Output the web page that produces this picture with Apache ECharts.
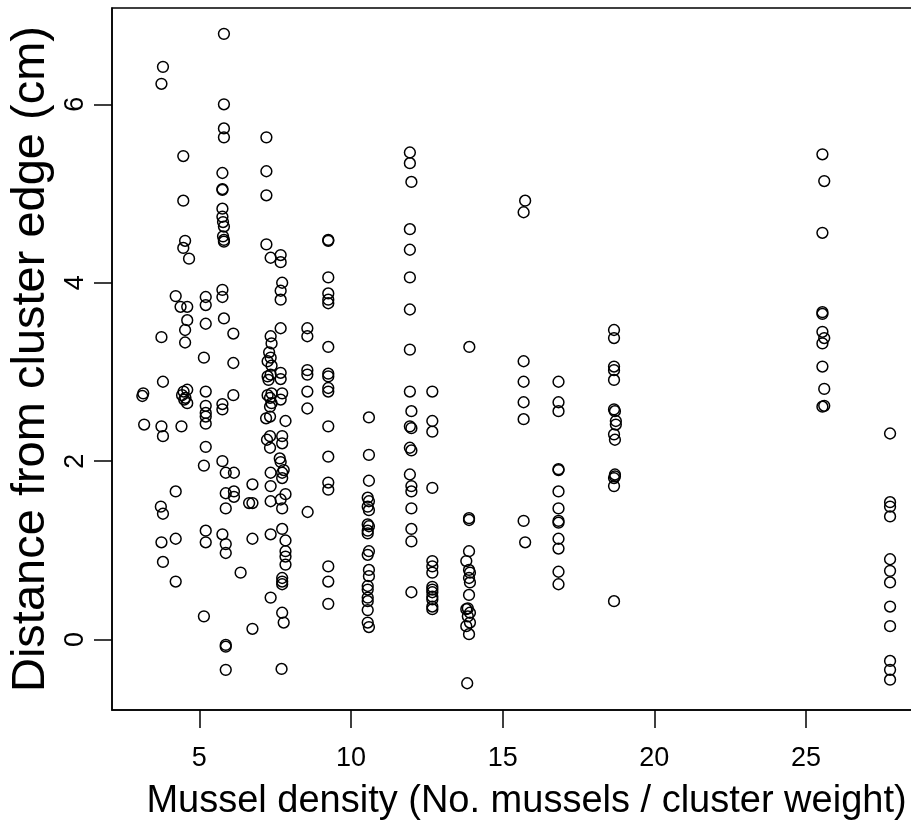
<!DOCTYPE html>
<html>
<head>
<meta charset="utf-8">
<script src="https://cdn.jsdelivr.net/npm/echarts@6/dist/echarts.min.js"></script>
<style>
html,body{margin:0;padding:0;background:#fff;overflow:hidden;width:911px;height:826px;}
#chart{width:925px;height:826px;}
</style>
</head>
<body>
<div id="chart"></div>
<script>
// Observed points: [mussel density, distance from cluster edge (cm)], grouped by density column
const colA = [[3.15,2.76],[3.12,2.73],[3.18,2.41]];
const colB = [[3.80,6.42],[3.75,6.23],[3.75,3.39],[3.80,2.89],[3.75,2.39],[3.80,2.28],[3.73,1.49],[3.80,1.41],[3.75,1.09],[3.80,0.87]];
const colC = [[4.22,3.85],[4.22,1.66],[4.22,1.13],[4.22,0.65]];
const colD = [[4.47,5.42],[4.47,4.92],[4.53,4.47],[4.47,4.39],[4.66,4.27],[4.38,3.73],[4.60,3.73],[4.60,3.58],[4.53,3.47],[4.53,3.33],[4.41,2.39],
  [4.48,2.78],[4.60,2.80],[4.43,2.74],[4.54,2.71],[4.60,2.65],[4.50,2.69]];
const colE = [[5.21,3.84],[5.21,3.75],[5.21,3.54],[5.15,3.16],[5.21,2.78],[5.21,2.62],[5.21,2.54],[5.21,2.50],[5.21,2.42],[5.21,2.16],[5.15,1.95],[5.21,1.22],[5.21,1.09],[5.15,0.26]];
const colF = [[5.81,6.79],[5.81,6.00],[5.81,5.73],[5.81,5.63],[5.76,5.23],[5.76,5.05],[5.76,5.04],[5.76,4.83],[5.76,4.74],[5.78,4.68],[5.81,4.63],[5.78,4.52],[5.81,4.48],[5.81,4.46],
  [5.76,3.92],[5.76,3.84],[5.81,3.60],[5.76,2.64],[5.76,2.58],[5.76,2.00],[5.87,1.87],[5.87,1.64],[5.87,1.47],[5.76,1.18],[5.87,1.07],[5.87,0.97],[5.87,-0.06],[5.87,-0.08],[5.87,-0.34]];
const colG = [[6.12,3.43],[6.12,3.10],[6.12,2.74],[6.14,1.87],[6.14,1.66],[6.14,1.60],[6.36,0.75]];
const colH = [[6.75,1.74],[6.64,1.53],[6.75,1.53],[6.75,1.13],[6.75,0.12]];
const colI = [[7.21,5.63],[7.21,5.25],[7.21,4.98],[7.21,4.43],[7.35,4.28],[7.35,3.40],[7.38,3.32],[7.30,3.22],[7.35,3.16],[7.25,3.12],[7.38,3.07],[7.25,2.95],[7.35,2.97],[7.28,2.91],
  [7.25,2.74],[7.38,2.76],[7.33,2.71],[7.38,2.65],[7.33,2.61],[7.20,2.48],[7.33,2.50],[7.23,2.24],[7.33,2.28],[7.33,2.15],[7.35,1.87],[7.35,1.72],[7.35,1.55],[7.35,1.18],[7.35,0.47]];
const colJ = [[7.68,4.31],[7.68,4.23],[7.73,4.00],[7.68,3.91],[7.68,3.81],[7.68,3.49],[7.68,2.99],[7.68,2.92],[7.73,2.76],[7.68,2.69],[7.84,2.45],[7.73,2.28],[7.73,2.20],[7.65,2.03],[7.68,1.99],
  [7.78,1.90],[7.73,1.87],[7.73,1.81],[7.84,1.63],[7.68,1.57],[7.73,1.47],[7.73,1.24],[7.84,1.11],[7.84,0.99],[7.84,0.93],[7.84,0.84],[7.73,0.69],[7.73,0.65],[7.73,0.62],[7.73,0.30],[7.78,0.19],[7.71,-0.33]];
const colK = [[8.56,3.49],[8.56,3.40],[8.56,3.02],[8.56,2.97],[8.56,2.78],[8.56,2.59],[8.57,1.43]];
const colL = [[9.25,4.48],[9.25,4.47],[9.25,4.06],[9.25,3.88],[9.25,3.81],[9.25,3.77],[9.25,3.28],[9.25,2.98],[9.25,2.95],[9.25,2.82],[9.25,2.78],[9.25,2.39],[9.25,2.05],[9.25,1.76],[9.25,1.68],[9.25,0.82],[9.25,0.65],[9.25,0.40]];
const colM = [[10.59,2.49],[10.59,2.07],[10.59,1.78],[10.55,1.59],[10.59,1.55],[10.55,1.49],[10.59,1.45],[10.55,1.29],[10.59,1.27],[10.55,1.22],[10.55,1.19],[10.59,0.99],[10.55,0.95],
  [10.59,0.78],[10.59,0.71],[10.55,0.60],[10.55,0.56],[10.55,0.47],[10.55,0.43],[10.55,0.33],[10.55,0.19],[10.59,0.14]];
const colN = [[11.94,5.46],[11.94,5.34],[11.99,5.13],[11.94,4.60],[11.94,4.37],[11.94,4.06],[11.94,3.70],[11.94,3.25],[11.94,2.78],[11.99,2.56],[11.94,2.39],[11.99,2.37],[11.94,2.15],[11.99,2.12],
  [11.94,1.85],[11.99,1.72],[11.99,1.66],[11.99,1.47],[11.99,1.24],[11.99,1.10],[11.99,0.53]];
const colO = [[12.68,2.78],[12.68,2.45],[12.68,2.33],[12.68,1.70],[12.68,0.88],[12.68,0.82],[12.68,0.75],[12.68,0.59],[12.68,0.56],[12.68,0.53],[12.68,0.48],[12.68,0.45],[12.68,0.37],[12.68,0.34]];
const colP = [[13.90,3.28],[13.89,1.36],[13.89,1.34],[13.89,0.99],[13.80,0.88],[13.89,0.78],[13.92,0.75],[13.89,0.69],[13.92,0.64],[13.89,0.50],[13.85,0.35],[13.80,0.34],[13.92,0.30],[13.85,0.26],
  [13.92,0.19],[13.80,0.15],[13.89,0.06],[13.83,-0.49]];
const colQ = [[15.74,4.92],[15.69,4.79],[15.69,3.12],[15.69,2.89],[15.69,2.66],[15.69,2.47],[15.69,1.33],[15.74,1.09]];
const colR = [[16.84,2.89],[16.84,2.66],[16.84,2.56],[16.84,1.91],[16.84,1.90],[16.84,1.66],[16.84,1.47],[16.84,1.33],[16.84,1.31],[16.84,1.13],[16.84,1.02],[16.84,0.76],[16.84,0.62]];
const colS = [[18.67,3.47],[18.67,3.38],[18.67,3.06],[18.67,3.02],[18.67,2.91],[18.67,2.58],[18.70,2.56],[18.73,2.45],[18.73,2.41],[18.67,2.30],[18.70,2.24],[18.70,1.85],[18.70,1.83],[18.67,1.81],[18.67,1.72],[18.67,0.43]];
const colT = [[25.54,5.44],[25.60,5.14],[25.54,4.56],[25.54,3.67],[25.54,3.65],[25.54,3.45],[25.60,3.38],[25.54,3.32],[25.54,3.06],[25.60,2.81],[25.54,2.61],[25.60,2.62]];
const colU = [[27.77,2.31],[27.77,1.54],[27.77,1.49],[27.77,1.38],[27.77,0.90],[27.77,0.77],[27.77,0.64],[27.77,0.37],[27.77,0.15],[27.77,-0.24],[27.77,-0.34],[27.77,-0.45]];

const xTicks = [5, 10, 15, 20, 25];
const yTicks = [0, 2, 4, 6];
const xTitle = 'Mussel density (No. mussels / cluster weight)';
const yTitle = 'Distance from cluster edge (cm)';

const points = [].concat(colA,colB,colC,colD,colE,colF,colG,colH,colI,colJ,colK,colL,colM,colN,colO,colP,colQ,colR,colS,colT,colU);
const FONT = "'Liberation Sans', Arial, Helvetica, sans-serif";

const chart = echarts.init(document.getElementById('chart'), null, {renderer:'canvas'});
chart.setOption({
  animation: false,
  backgroundColor: '#ffffff',
  grid: {left: 112, top: 8, right: 4, bottom: 116, outerBoundsMode: 'none', containLabel: false,
    show: true, borderColor: '#000', borderWidth: 1.5, backgroundColor: 'transparent'},
  xAxis: {
    type: 'value', min: 2.12, max: 28.79,
    name: xTitle, nameLocation: 'middle', nameGap: 73,
    nameTextStyle: {fontFamily: FONT, fontSize: 38, color: '#000', padding: [0, 0, 0, 20]},
    axisLine: {show: true, onZero: false, lineStyle: {color: '#000', width: 1.5}},
    axisTick: {show: true, inside: false, length: 18, customValues: xTicks, lineStyle: {color: '#000', width: 1.5}},
    axisLabel: {show: true, customValues: xTicks, margin: 35, fontFamily: FONT, fontSize: 27, color: '#000'},
    splitLine: {show: false}
  },
  yAxis: {
    type: 'value', min: -0.79, max: 7.08,
    name: yTitle, nameLocation: 'middle', nameGap: 51, nameRotate: 90,
    nameTextStyle: {fontFamily: FONT, fontSize: 47, color: '#000'},
    axisLine: {show: true, onZero: false, lineStyle: {color: '#000', width: 1.5}},
    axisTick: {show: true, inside: false, length: 18, customValues: yTicks, lineStyle: {color: '#000', width: 1.5}},
    axisLabel: {show: true, customValues: yTicks, rotate: 90, margin: 23, fontFamily: FONT, fontSize: 27, color: '#000'},
    splitLine: {show: false}
  },
  series: [{
    type: 'scatter',
    data: points,
    symbol: 'circle',
    symbolSize: 10.8,
    itemStyle: {color: 'rgba(0,0,0,0)', borderColor: '#000', borderWidth: 1.5, opacity: 1},
    emphasis: {disabled: true},
    clip: false
  }]
});
</script>
</body>
</html>
